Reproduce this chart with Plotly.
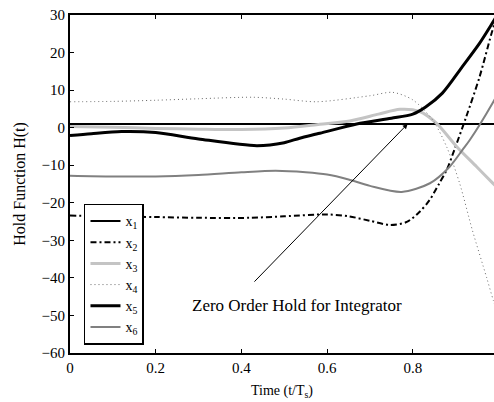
import plotly.graph_objects as go

# Hold function H(t) of each state variable over one sample period
t1 = [0.0, 1.0]
h1 = [1.0, 1.0]

t2 = [0.0, 0.1, 0.2, 0.3, 0.42, 0.5, 0.6, 0.65, 0.7, 0.746, 0.786, 0.816,
      0.839, 0.862, 0.879, 0.897, 0.925, 0.956, 0.984, 1.0]
h2 = [-23.4, -23.6, -23.8, -24.0, -24.0, -23.6, -23.1, -23.6, -24.8, -25.9,
      -25.1, -22.4, -19.3, -14.8, -11.3, -5.9, 3.0, 13.6, 25.2, 31.0]

t3 = [0.0, 0.1, 0.2, 0.3, 0.4, 0.5, 0.583, 0.653, 0.72, 0.77, 0.816, 0.855,
      0.902, 0.949, 0.986, 1.0]
h3 = [0.3, 0.1, -0.2, -0.4, -0.5, -0.1, 0.9, 1.8, 3.6, 4.9, 4.3, 1.2,
      -5.0, -10.4, -14.7, -16.3]

t4 = [0.0, 0.1, 0.2, 0.3, 0.427, 0.5, 0.576, 0.7, 0.753, 0.8, 0.846, 0.879,
      0.909, 0.939, 0.972, 0.988, 1.0]
h4 = [6.9, 7.0, 7.3, 7.7, 8.1, 7.6, 6.9, 8.5, 9.4, 7.4, 2.1, -5.1,
      -14.7, -27.3, -39.8, -46.0, -50.0]

t5 = [0.0, 0.05, 0.12, 0.2, 0.3, 0.436, 0.5, 0.536, 0.583, 0.669, 0.75, 0.8,
      0.83, 0.869, 0.916, 0.956, 0.986, 1.0]
h5 = [-2.1, -1.6, -1.05, -1.3, -3.0, -4.8, -4.0, -2.8, -1.5, 1.0, 2.5, 3.6,
      5.5, 9.2, 16.3, 22.5, 27.9, 30.5]

t6 = [0.0, 0.1, 0.2, 0.3, 0.4, 0.48, 0.55, 0.6, 0.65, 0.7, 0.774, 0.84,
      0.886, 0.916, 0.933, 0.986, 1.0]
h6 = [-12.8, -13.0, -13.0, -12.6, -11.9, -11.5, -11.9, -12.5, -13.8, -15.5,
      -17.1, -14.8, -10.4, -5.9, -3.3, 6.5, 9.5]

y_ticks = [30, 20, 10, 0, -10, -20, -30, -40, -50, -60]
x_ticks = [0, 0.2, 0.4, 0.6, 0.8]

FONT = "Liberation Serif"

series = [
    ("x<sub>1</sub>", t1, h1, dict(color="black", width=2)),
    ("x<sub>2</sub>", t2, h2, dict(color="black", width=2, dash="6px,3px,2px,3px")),
    ("x<sub>3</sub>", t3, h3, dict(color="#c4c4c4", width=3)),
    ("x<sub>4</sub>", t4, h4, dict(color="#6a6a6a", width=1, dash="1px,3px")),
    ("x<sub>5</sub>", t5, h5, dict(color="black", width=3)),
    ("x<sub>6</sub>", t6, h6, dict(color="#808080", width=2)),
]

fig = go.Figure()
for name, t, h, line in series:
    shape = "linear" if len(t) == 2 else "spline"
    fig.add_trace(go.Scatter(x=t, y=h, mode="lines", name=name,
                             line=dict(shape=shape, smoothing=0.8, **line)))

fig.add_annotation(
    x=0.788, y=1.0, ax=0.427, ay=-41.4, xref="x", yref="y", axref="x", ayref="y",
    text="", showarrow=True, arrowhead=2, arrowsize=1, arrowwidth=1,
    arrowcolor="black",
)
fig.add_annotation(
    x=0.53, y=-47.3, xref="x", yref="y", text="Zero Order Hold for Integrator",
    showarrow=False, font=dict(family=FONT, size=17, color="black"),
)

fig.update_layout(
    width=494, height=402,
    margin=dict(l=70, r=0, t=15, b=49),
    paper_bgcolor="white", plot_bgcolor="white",
    font=dict(family=FONT, size=14, color="black"),
    showlegend=True,
    legend=dict(
        x=0.033, y=0.024, xanchor="left", yanchor="bottom",
        bgcolor="white", bordercolor="black", borderwidth=1.5,
        font=dict(family=FONT, size=14), tracegroupgap=0,
        itemwidth=30,
    ),
    xaxis=dict(
        range=[0, 0.9895], tickvals=x_ticks, ticktext=[f"{v:g}" for v in x_ticks],
        ticks="inside", ticklen=4, tickcolor="black", showgrid=False, zeroline=False,
        showline=True, linecolor="black", linewidth=2, mirror="ticks",
        title=dict(text="Time (t/T<sub>s</sub>)", font=dict(family=FONT, size=14), standoff=10),
        tickfont=dict(family=FONT, size=15),
    ),
    yaxis=dict(
        range=[-60, 30], tickvals=y_ticks, ticks="inside", ticklen=4,
        tickcolor="black", showgrid=False, zeroline=False,
        showline=True, linecolor="black", linewidth=2,
        title=dict(text="Hold Function H(t)", font=dict(family=FONT, size=16), standoff=12),
        tickfont=dict(family=FONT, size=15),
    ),
)

fig.write_html("out.html")
